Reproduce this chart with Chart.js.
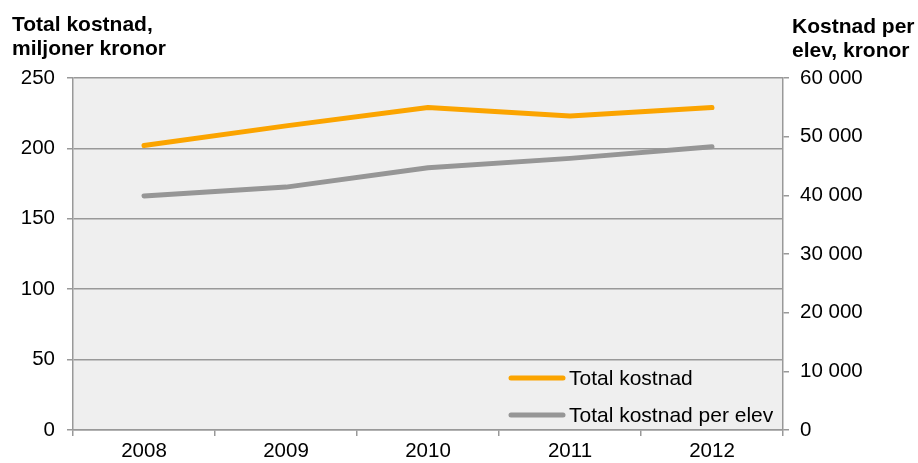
<!DOCTYPE html>
<html>
<head>
<meta charset="utf-8">
<script src="https://cdn.jsdelivr.net/npm/chart.js@4"></script>
<style>
  html, body { margin: 0; padding: 0; background: #fff; }
  #wrap { width: 918px; height: 463px; }
</style>
</head>
<body>
<div id="wrap"><canvas id="myChart" width="918" height="463"></canvas></div>
<script>
// Datos
const years = ['2008', '2009', '2010', '2011', '2012']
const totalKostnad = [202, 216, 229, 223, 229]            // miljoner kronor
const kostnadPerElev = [39900, 41400, 44700, 46300, 48300] // kronor
const leftTicks = [0, 50, 100, 150, 200, 250]
const rightTicks = [0, 10000, 20000, 30000, 40000, 50000, 60000]

const FONT = "'Liberation Sans', Arial, sans-serif"
const ORANGE = '#fba400'
const GREY = '#969696'

// Fondo gris del área del gráfico
const plotBg = {
  id: 'plotBg',
  beforeDraw: chart => {
    const {ctx, chartArea: a} = chart
    ctx.save()
    ctx.fillStyle = '#efefef'
    ctx.fillRect(a.left, a.top, a.right - a.left, a.bottom - a.top)
    ctx.restore()
  }
}

// Títulos de ejes y leyenda dentro del área
const extras = {
  id: 'extras',
  afterDraw: chart => {
    const {ctx} = chart
    ctx.save()
    ctx.fillStyle = '#000'
    ctx.font = `bold 21px ${FONT}`
    ctx.textBaseline = 'alphabetic'
    ctx.textAlign = 'left'
    ctx.fillText('Total kostnad,', 12, 31)
    ctx.fillText('miljoner kronor', 12, 55)
    ctx.fillText('Kostnad per', 792, 33)
    ctx.fillText('elev, kronor', 792, 57)

    // leyenda
    ctx.font = `21px ${FONT}`
    ctx.textBaseline = 'middle'
    const ys = [378, 415]
    chart.data.datasets.forEach((ds, i) => {
      ctx.strokeStyle = ds.borderColor
      ctx.lineWidth = 5
      ctx.lineCap = 'round'
      ctx.beginPath()
      ctx.moveTo(511, ys[i])
      ctx.lineTo(563, ys[i])
      ctx.stroke()
      ctx.fillStyle = '#000'
      ctx.fillText(ds.label, 569, ys[i] + 1)
    })
    ctx.restore()
  }
}

const data = {
  labels: years,
  datasets: [
    {
      label: 'Total kostnad',
      data: totalKostnad,
      borderColor: ORANGE,
      backgroundColor: ORANGE,
      borderWidth: 5,
      borderCapStyle: 'round',
      borderJoinStyle: 'round',
      pointRadius: 0,
      tension: 0,
      yAxisID: 'y'
    },
    {
      label: 'Total kostnad per elev',
      data: kostnadPerElev,
      borderColor: GREY,
      backgroundColor: GREY,
      borderWidth: 5,
      borderCapStyle: 'round',
      borderJoinStyle: 'round',
      pointRadius: 0,
      tension: 0,
      yAxisID: 'y1'
    }
  ]
}

const tickFont = { family: FONT, size: 20.5 }

const config = {
  type: 'line',
  data: data,
  options: {
    responsive: false,
    animation: false,
    layout: { padding: { top: 78, left: 0, right: 0, bottom: 0 } },
    plugins: {
      legend: { display: false },
      tooltip: { enabled: false }
    },
    scales: {
      x: {
        offset: true,
        afterFit: s => { s.height = 33 },
        grid: { offset: true, drawOnChartArea: false, color: '#999', tickLength: 6, lineWidth: 1.5 },
        border: { color: '#999', width: 1.5 },
        ticks: { color: '#000', font: tickFont, padding: 3, maxRotation: 0 }
      },
      y: {
        position: 'left',
        min: 0,
        max: 250,
        afterFit: s => { s.width = 73 },
        afterBuildTicks: s => { s.ticks = leftTicks.map(v => ({value: v})) },
        grid: { color: '#999', tickLength: 6, lineWidth: 1.5 },
        border: { color: '#999', width: 1.5 },
        ticks: { color: '#000', font: tickFont, padding: 12 }
      },
      y1: {
        position: 'right',
        min: 0,
        max: 60000,
        afterFit: s => { s.width = 135 },
        afterBuildTicks: s => { s.ticks = rightTicks.map(v => ({value: v})) },
        grid: { drawOnChartArea: false, color: '#999', tickLength: 6, lineWidth: 1.5 },
        border: { color: '#999', width: 1.5 },
        ticks: {
          color: '#000',
          font: tickFont,
          padding: 11,
          callback: v => v.toLocaleString('en-US').replace(/,/g, ' ')
        }
      }
    }
  },
  plugins: [plotBg, extras]
}

const myChart = new Chart(document.getElementById('myChart'), config)
</script>
</body>
</html>
